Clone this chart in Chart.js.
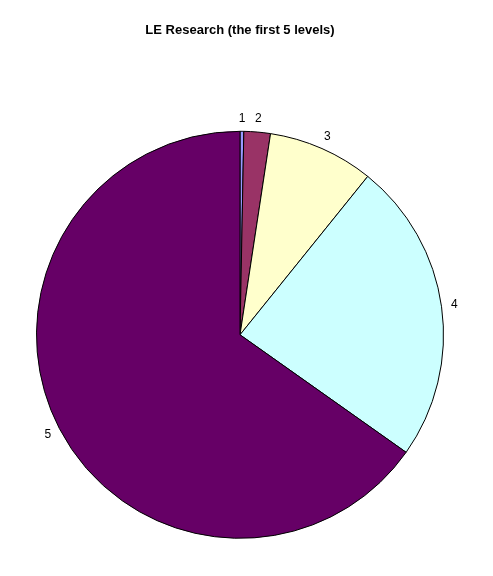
<!DOCTYPE html>
<html>
<head>
<meta charset="utf-8">
<script src="https://cdn.jsdelivr.net/npm/chart.js@4/dist/chart.umd.min.js"></script>
<style>
  html, body { margin: 0; padding: 0; background: #ffffff; }
  #wrap { width: 493px; height: 576px; }
</style>
</head>
<body>
<div id="wrap"><canvas id="pie"></canvas></div>
<script>
// levels and their share of the research (in %)
var levels = ["1", "2", "3", "4", "5"];
var shares = [0.3, 2.1, 8.4, 24.0, 65.2];
var sliceColors = ["#9999FF", "#993366", "#FFFFCC", "#CCFFFF", "#660066"];

// draw the level names just outside each slice
var outsideLabels = {
    id: "outsideLabels",
    afterDatasetsDraw: function(chart) {
        var ctx = chart.ctx;
        var meta = chart.getDatasetMeta(0);
        ctx.save();
        ctx.font = "12px Arial, 'Liberation Sans', sans-serif";
        ctx.fillStyle = "#000000";
        ctx.textAlign = "center";
        ctx.textBaseline = "middle";
        meta.data.forEach(function(arc, i) {
            var mid = (arc.startAngle + arc.endAngle) / 2;
            var r = arc.outerRadius + 13;
            ctx.fillText(chart.data.labels[i], arc.x + Math.cos(mid) * r, arc.y + Math.sin(mid) * r);
        });
        ctx.restore();
    }
};

var ctx = document.getElementById("pie").getContext("2d");
var chart = new Chart(ctx, {
    type: "pie",
    data: {
        labels: levels,
        datasets: [{
            data: shares,
            backgroundColor: sliceColors,
            borderColor: "#000000",
            borderWidth: 1
        }]
    },
    options: {
        responsive: true,
        maintainAspectRatio: false,
        animation: false,
        layout: {
            padding: { left: 36, right: 49, top: 0, bottom: 37 }
        },
        plugins: {
            legend: { display: false },
            tooltip: { enabled: false },
            title: {
                display: true,
                text: "LE Research (the first 5 levels)",
                color: "#000000",
                font: { family: "Arial, 'Liberation Sans', sans-serif", size: 13, weight: "bold" },
                padding: { top: 23, bottom: 92 }
            }
        }
    },
    plugins: [outsideLabels]
});
</script>
</body>
</html>
